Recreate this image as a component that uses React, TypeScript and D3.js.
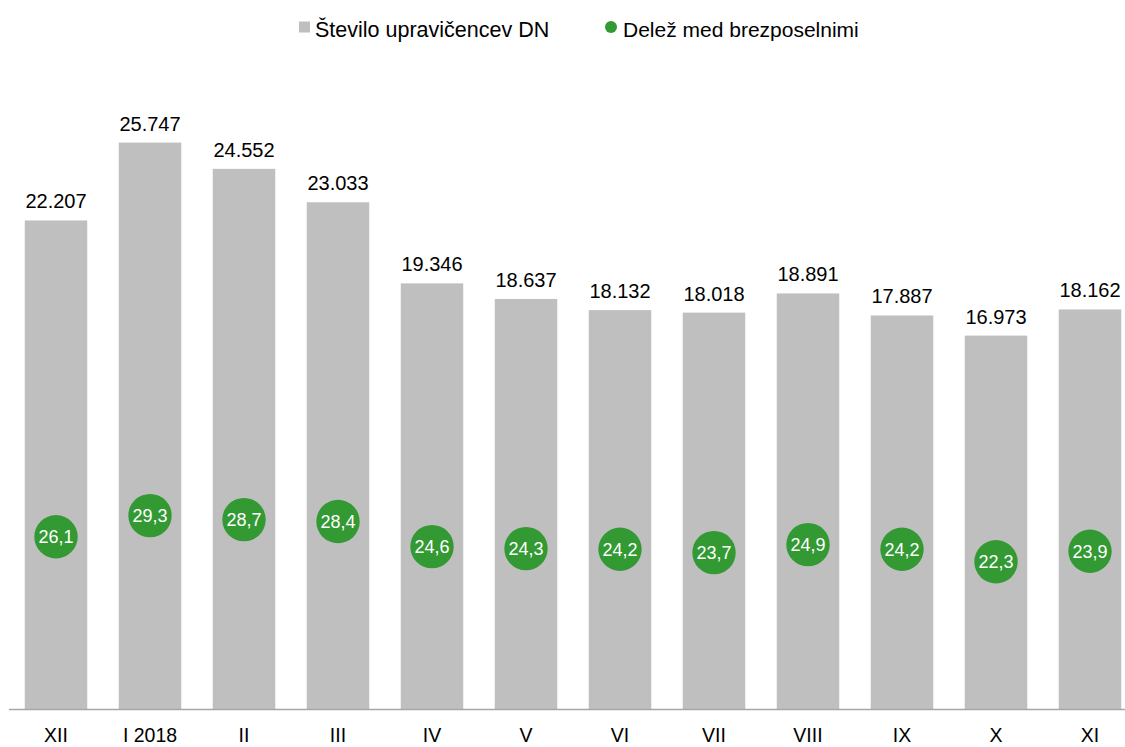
import React from "react";
import * as d3 from "d3";

const categories = ["XII", "I 2018", "II", "III", "IV", "V", "VI", "VII", "VIII", "IX", "X", "XI"];
const recipients = [22207, 25747, 24552, 23033, 19346, 18637, 18132, 18018, 18891, 17887, 16973, 18162];
const shareUnemployed = [26.1, 29.3, 28.7, 28.4, 24.6, 24.3, 24.2, 23.7, 24.9, 24.2, 22.3, 23.9];
const legendLabels = ["Število upravičencev DN", "Delež med brezposelnimi"];

const W = 1125;
const H = 747;
const FONT = "'Liberation Sans', Arial, sans-serif";
const BAR = "#bfbfbf";
const GREEN = "#339933";

export default function App() {
  const x = d3
    .scaleBand<string>()
    .domain(categories)
    .range([9, 1137])
    .paddingInner(0.335)
    .paddingOuter(0.1675);
  const y = d3.scaleLinear().domain([0, 30000]).range([709, 49]);
  const y2 = d3.scaleLinear().domain([0, 100]).range([709, 49]);
  const fmt = (v: number) => d3.format(",")(v).replace(/,/g, ".");
  const fmt2 = (v: number) => v.toFixed(1).replace(".", ",");
  const bw = x.bandwidth();

  return (
    <svg
      width={W}
      height={H}
      style={{ position: "absolute", left: 0, top: 0, background: "#fff" }}
      fontFamily={FONT}
    >
      {/* legend */}
      <rect x={299} y={21.5} width={11} height={11} fill={BAR} />
      <text x={315} y={37} fontSize={21.5} fill="#000">
        {legendLabels[0]}
      </text>
      <circle cx={611} cy={27} r={6} fill={GREEN} />
      <text x={623} y={37} fontSize={21} fill="#000">
        {legendLabels[1]}
      </text>

      {/* bars */}
      {categories.map((c, i) => (
        <g key={c}>
          <rect x={x(c)} y={y(recipients[i])} width={bw} height={y(0) - y(recipients[i])} fill={BAR} />
          <text
            x={(x(c) as number) + bw / 2}
            y={y(recipients[i]) - 12}
            textAnchor="middle"
            fontSize={20}
            fill="#000"
          >
            {fmt(recipients[i])}
          </text>
        </g>
      ))}

      {/* axis line */}
      <line x1={9} x2={1137} y1={709.5} y2={709.5} stroke="#a6a6a6" strokeWidth={1.5} />

      {/* category labels */}
      {categories.map((c) => (
        <text key={c} x={(x(c) as number) + bw / 2} y={742} textAnchor="middle" fontSize={19.5} fill="#000">
          {c}
        </text>
      ))}

      {/* share markers */}
      {categories.map((c, i) => (
        <g key={"m" + c}>
          <circle cx={(x(c) as number) + bw / 2} cy={y2(shareUnemployed[i])} r={21.7} fill={GREEN} />
          <text
            x={(x(c) as number) + bw / 2}
            y={y2(shareUnemployed[i])}
            dy="0.36em"
            textAnchor="middle"
            fontSize={18}
            fill="#fff"
          >
            {fmt2(shareUnemployed[i])}
          </text>
        </g>
      ))}
    </svg>
  );
}
